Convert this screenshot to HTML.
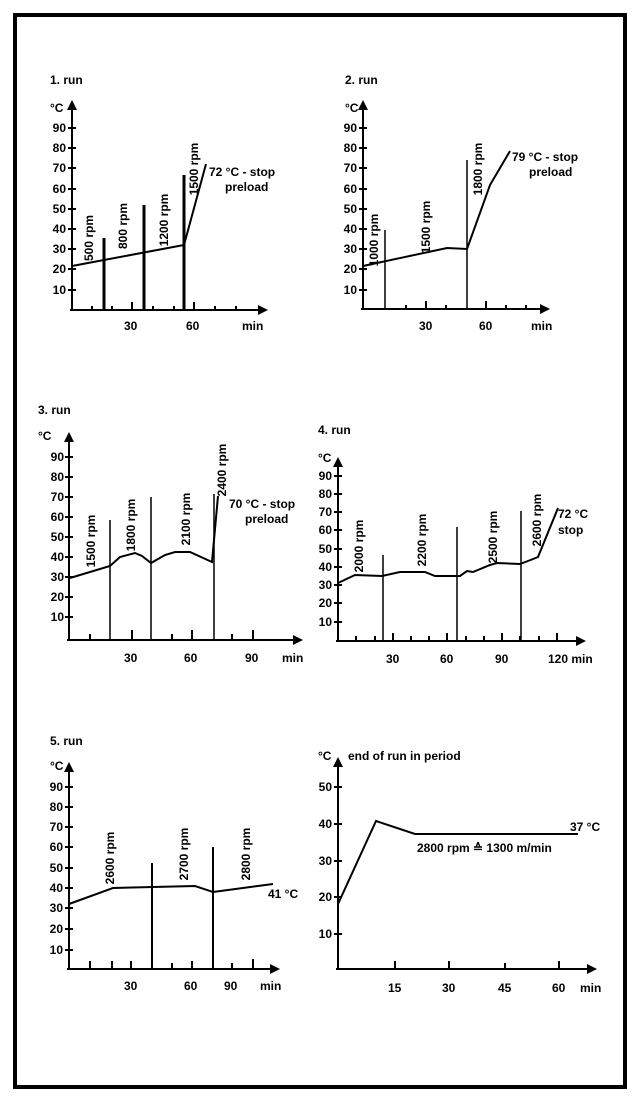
<!DOCTYPE html>
<html><head><meta charset="utf-8"><style>
html,body{margin:0;padding:0;background:#fff}
svg text{font-family:"Liberation Sans",sans-serif;font-size:12px;font-weight:bold;fill:#000}
.r{text-anchor:middle}
</style></head><body>
<svg width="640" height="1097" viewBox="0 0 640 1097" xmlns="http://www.w3.org/2000/svg">
<rect x="15" y="15" width="610" height="1072" fill="none" stroke="#000" stroke-width="4"/>
<g stroke="#000" fill="none" stroke-width="2">
<!-- Panel 1 -->
<path d="M72,310V108M70,310H260"/>
<path d="M72,266L184,245L206,164"/>
<path d="M104,238V310M144,205V310M184,175V310" stroke-width="3"/>
<path d="M92,310v-4M112,310v-4M132,310v-8M153,310v-4M174,310v-4M194,310v-8M215,310v-4M236,310v-4"/>
<!-- Panel 2 -->
<path d="M363,309V108M361,309H542"/>
<path d="M363,266L447,248L467,249L490,185L510,151"/>
<path d="M385,230V309M467,160V309" stroke-width="1.5"/>
<path d="M406,309v-4M426,309v-8M446,309v-4M486,309v-8M506,309v-4M526,309v-4"/>
<!-- Panel 3 -->
<path d="M69,640V440M67,640H296"/>
<path d="M70,578L110,566L120,557L135,553L142,556L151,563L165,555L175,552L190,552L212,562L218,496"/>
<path d="M110,520V640M151,497V640M214,494V640" stroke-width="1.5"/>
<path d="M90,640v-6M132,640v-10M172,640v-6M192,640v-10M232,640v-6M253,640v-10"/>
<!-- Panel 4 -->
<path d="M338,641V466M336,641H578"/>
<path d="M338,583L355,575L382,576L400,572L425,572L435,576L460,576L467,571L473,572L490,565L497,563L520,564L528,561L538,557L558,508"/>
<path d="M383,555V641M457,527V641M521,511V641" stroke-width="1.5"/>
<path d="M356,641v-5M375,641v-5M393,641v-8M411,641v-5M429,641v-5M447,641v-8M466,641v-5M484,641v-5M502,641v-8M520,641v-5M539,641v-5M557,641v-8"/>
<!-- Panel 5 -->
<path d="M69,969V770M67,969H272"/>
<path d="M69,904L113,888L195,886L213,892L273,884"/>
<path d="M152,863V969M213,847V969" stroke-width="2"/>
<path d="M90,969v-8M112,969v-8M131,969v-8M172,969v-6M192,969v-8M232,969v-6M253,969v-10"/>
<!-- Panel 6 -->
<path d="M338,969V765M336,969H590"/>
<path d="M338,904L376,821L415,834L578,834"/>
<path d="M395,969v-8M449,969v-8M505,969v-6M559,969v-8"/>
</g>
<g fill="#000">
<path d="M72,100l-5,10h10z M268,310l-10,-5v10z"/>
<path d="M363,100l-5,10h10z M550,309l-10,-5v10z"/>
<path d="M69,432l-5,10h10z M303,640l-10,-5v10z"/>
<path d="M338,457l-5,10h10z M586,641l-10,-5v10z"/>
<path d="M69,762l-5,10h10z M280,969l-10,-5v10z"/>
<path d="M338,757l-5,10h10z M597,969l-10,-5v10z"/>
</g>
<g stroke="#000" stroke-width="2">
<path d="M68,128h8M68,148h8M68,168h8M68,189h8M68,209h8M68,229h8M68,249h8M68,269h8M68,290h8"/>
<path d="M359,128h8M359,148h8M359,168h8M359,189h8M359,209h8M359,229h8M359,249h8M359,269h8M359,290h8"/>
<path d="M65,457h8M65,477h8M65,497h8M65,517h8M65,537h8M65,557h8M65,577h8M65,597h8M65,617h8"/>
<path d="M334,476h8M334,494h8M334,512h8M334,530h8M334,549h8M334,567h8M334,585h8M334,603h8M334,622h8"/>
<path d="M65,787h8M65,807h8M65,827h8M65,847h8M65,868h8M65,888h8M65,908h8M65,929h8M65,950h8"/>
<path d="M334,787h8M334,824h8M334,861h8M334,897h8M334,934h8"/>
</g>
<!-- labels panel 1 -->
<text x="50" y="84">1. run</text><text x="50" y="112">°C</text>
<g text-anchor="end"><text x="66" y="132">90</text><text x="66" y="152">80</text><text x="66" y="172">70</text><text x="66" y="193">60</text><text x="66" y="213">50</text><text x="66" y="233">40</text><text x="66" y="253">30</text><text x="66" y="273">20</text><text x="66" y="294">10</text></g>
<text x="124" y="330">30</text><text x="186" y="330">60</text><text x="242" y="330">min</text>
<text class="r" transform="translate(93,238) rotate(-90)">500 rpm</text>
<text class="r" transform="translate(127,226) rotate(-90)">800 rpm</text>
<text class="r" transform="translate(168,220) rotate(-90)">1200 rpm</text>
<text class="r" transform="translate(198,169) rotate(-90)">1500 rpm</text>
<text x="209" y="176">72 °C - stop</text><text x="225" y="191">preload</text>
<!-- panel 2 -->
<text x="345" y="84">2. run</text><text x="345" y="112">°C</text>
<g text-anchor="end"><text x="357" y="132">90</text><text x="357" y="152">80</text><text x="357" y="172">70</text><text x="357" y="193">60</text><text x="357" y="213">50</text><text x="357" y="233">40</text><text x="357" y="253">30</text><text x="357" y="273">20</text><text x="357" y="294">10</text></g>
<text x="419" y="330">30</text><text x="479" y="330">60</text><text x="531" y="330">min</text>
<text class="r" transform="translate(378,240) rotate(-90)">1000 rpm</text>
<text class="r" transform="translate(430,227) rotate(-90)">1500 rpm</text>
<text class="r" transform="translate(482,169) rotate(-90)">1800 rpm</text>
<text x="512" y="161">79 °C - stop</text><text x="529" y="176">preload</text>
<!-- panel 3 -->
<text x="38" y="414">3. run</text><text x="38" y="440">°C</text>
<g text-anchor="end"><text x="64" y="461">90</text><text x="64" y="481">80</text><text x="64" y="501">70</text><text x="64" y="521">60</text><text x="64" y="541">50</text><text x="64" y="561">40</text><text x="64" y="581">30</text><text x="64" y="601">20</text><text x="64" y="621">10</text></g>
<text x="124" y="662">30</text><text x="184" y="662">60</text><text x="245" y="662">90</text><text x="282" y="662">min</text>
<text class="r" transform="translate(95,541) rotate(-90)">1500 rpm</text>
<text class="r" transform="translate(135,525) rotate(-90)">1800 rpm</text>
<text class="r" transform="translate(190,519) rotate(-90)">2100 rpm</text>
<text class="r" transform="translate(226,470) rotate(-90)">2400 rpm</text>
<text x="229" y="508">70 °C - stop</text><text x="245" y="523">preload</text>
<!-- panel 4 -->
<text x="318" y="434">4. run</text><text x="318" y="462">°C</text>
<g text-anchor="end"><text x="332" y="480">90</text><text x="332" y="498">80</text><text x="332" y="516">70</text><text x="332" y="534">60</text><text x="332" y="553">50</text><text x="332" y="571">40</text><text x="332" y="589">30</text><text x="332" y="607">20</text><text x="332" y="626">10</text></g>
<text x="386" y="663">30</text><text x="440" y="663">60</text><text x="495" y="663">90</text><text x="548" y="663">120 min</text>
<text class="r" transform="translate(363,546) rotate(-90)">2000 rpm</text>
<text class="r" transform="translate(426,540) rotate(-90)">2200 rpm</text>
<text class="r" transform="translate(497,537) rotate(-90)">2500 rpm</text>
<text class="r" transform="translate(541,520) rotate(-90)">2600 rpm</text>
<text x="558" y="518">72 °C</text><text x="558" y="534">stop</text>
<!-- panel 5 -->
<text x="50" y="745">5. run</text><text x="50" y="770">°C</text>
<g text-anchor="end"><text x="63" y="791">90</text><text x="63" y="811">80</text><text x="63" y="831">70</text><text x="63" y="851">60</text><text x="63" y="872">50</text><text x="63" y="892">40</text><text x="63" y="912">30</text><text x="63" y="933">20</text><text x="63" y="954">10</text></g>
<text x="124" y="990">30</text><text x="184" y="990">60</text><text x="224" y="990">90</text><text x="260" y="990">min</text>
<text class="r" transform="translate(114,858) rotate(-90)">2600 rpm</text>
<text class="r" transform="translate(188,854) rotate(-90)">2700 rpm</text>
<text class="r" transform="translate(250,854) rotate(-90)">2800 rpm</text>
<text x="268" y="898">41 °C</text>
<!-- panel 6 -->
<text x="318" y="760">°C</text><text x="348" y="760">end of run in period</text>
<g text-anchor="end"><text x="332" y="791">50</text><text x="332" y="828">40</text><text x="332" y="865">30</text><text x="332" y="901">20</text><text x="332" y="938">10</text></g>
<text x="388" y="992">15</text><text x="442" y="992">30</text><text x="498" y="992">45</text><text x="552" y="992">60</text><text x="580" y="992">min</text>
<text x="417" y="852">2800 rpm ≙ 1300 m/min</text>
<text x="570" y="831">37 °C</text>
</svg>
</body></html>
